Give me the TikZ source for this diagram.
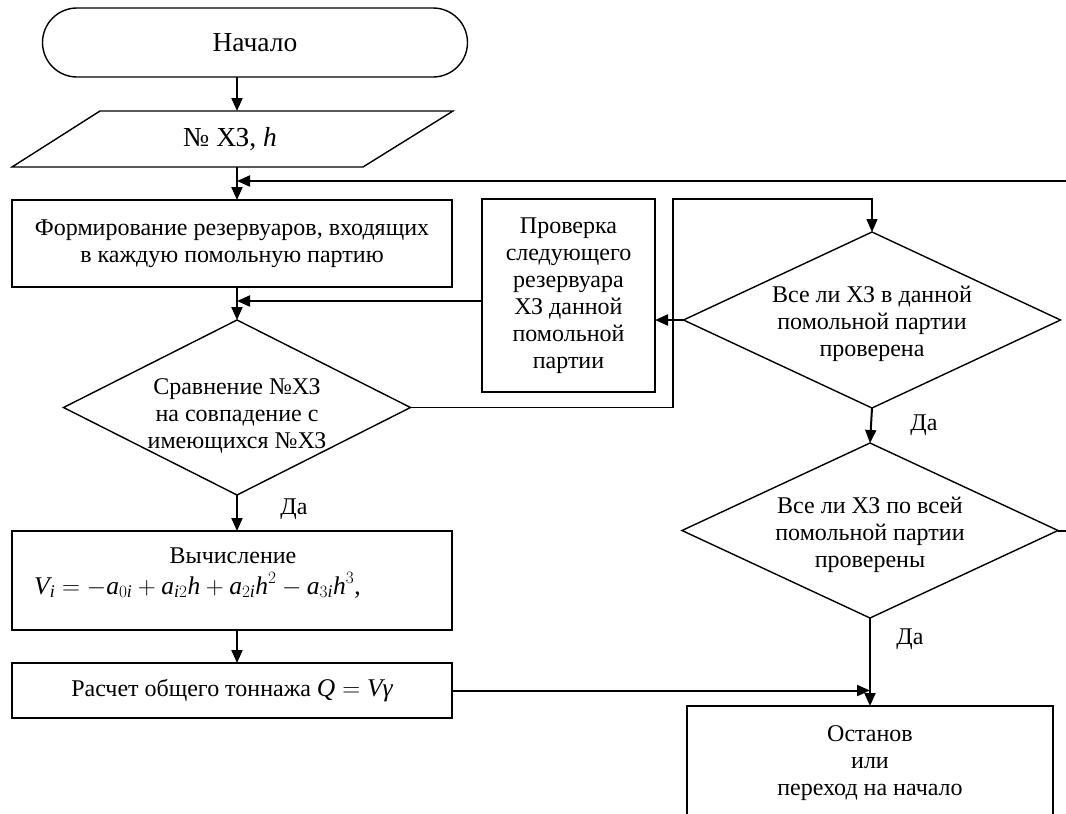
\documentclass[tikz,border=0pt]{standalone}
\usepackage{amsmath}
\usepackage{fontspec}
\setmainfont{Liberation Serif}
\usetikzlibrary{arrows.meta,shapes.geometric}
\newcommand{\mi}[1]{\textit{#1}}
\begin{document}
\begin{tikzpicture}[x=1pt,y=-1pt,
  base/.style={line width=1.4pt, inner sep=0pt, outer sep=0pt},
  box/.style={draw, rectangle, base, align=center, font=\fontsize{24}{27}\selectfont},
  dia/.style={draw, diamond, base},
  txt/.style={align=center, inner sep=0pt, font=\fontsize{24}{27}\selectfont},
  arr/.style={line width=2pt, -{Triangle[length=13pt,width=11pt]}}]
\clip (0,0) rectangle (1066,814);

% terminal
\node[draw, base, rectangle, rounded corners=34.5pt, minimum width=425pt, minimum height=69pt,
      font=\fontsize{27.5}{30}\selectfont] (start) at (255,42.5) {Начало};

% input (parallelogram)
\draw[base] (100,111) -- (453,111) -- (363,167) -- (12,167) -- cycle;
\node[base, minimum width=353pt, minimum height=56pt, font=\fontsize{27.5}{30}\selectfont]
      (inp) at (230,139) {№ ХЗ, \mi{h}};

% process boxes
\node[box, minimum width=440pt, minimum height=87pt] (box1) at (232,243.5)
      {Формирование резервуаров, входящих\\в каждую помольную партию};
\node[box, minimum width=173pt, minimum height=193pt] (chk) at (568.5,295.5)
      {Проверка\\следующего\\резервуара\\ХЗ данной\\помольной\\партии};
\node[box, minimum width=440pt, minimum height=99pt] (calc) at (232,580.5) {};
\node[txt] (calct) at (233,556) {Вычисление};
\node[anchor=west, inner sep=0pt, font=\fontsize{25.5}{27}\selectfont] (formula) at (34,585)
      {$\mi{V}_{\mi{i}} = -\mi{a}_{0\mi{i}} + \mi{a}_{\mi{i}2}\mi{h} + \mi{a}_{2\mi{i}}\mi{h}^{2} - \mi{a}_{3\mi{i}}\mi{h}^{3}$,};
\node[box, minimum width=440pt, minimum height=55pt] (sum) at (232,690.5)
      {Расчет общего тоннажа {\fontsize{25.5}{27}\selectfont $\mi{Q} = \mi{V}\mi{γ}$}};
\node[box, minimum width=366pt, minimum height=130pt] (stop) at (870,771) {};
\node[txt] (stopt) at (870,763) {Останов\\или\\переход на начало};

% decisions
\node[dia, minimum width=347pt, minimum height=175pt] (d1) at (237,407.5) {};
\node[txt] (d1t) at (237,416) {Сравнение №ХЗ\\на совпадение с\\имеющихся №ХЗ};
\node[dia, minimum width=377pt, minimum height=176pt] (d2) at (872,320) {};
\node[txt] (d2t) at (872,324) {Все ли ХЗ в данной\\помольной партии\\проверена};
\node[dia, minimum width=376pt, minimum height=175pt] (d3) at (870,530.5) {};
\node[txt] (d3t) at (870,535) {Все ли ХЗ по всей\\помольной партии\\проверены};

% labels
\node[txt] (yes1) at (294,509) {Да};
\node[txt] (yes2) at (924,425) {Да};
\node[txt] (yes3) at (910,639) {Да};

% helper points for routed connectors
\coordinate (j1) at (237,301);
\coordinate (lp) at (673,199);
\coordinate (rtop) at (1090,181);
\coordinate (rbot) at (1090,530.5);

% connectors
\draw[arr] (start.south -| d1.north) -- (inp.north -| d1.north);
\draw[arr] (inp.south -| d1.north) -- (box1.north -| d1.north);
\draw[arr] (d3.east) -- (rbot) -- (rtop) -- (rtop -| d1.north);
\draw[arr] (box1.south -| d1.north) -- (d1.north);
\draw[arr] (chk.west |- j1) -- (j1);
\draw[arr, line width=1.5pt] (d1.east) -- (d1.east -| lp) -- (lp) -- (lp -| d2.north) -- (d2.north);
\draw[arr] (d2.west) -- (chk.east |- d2.west);
\draw[arr] (d2.south) -- (d3.north);
\draw[arr] (d1.south) -- (calc.north -| d1.south);
\draw[arr] (calc.south -| d1.north) -- (sum.north -| d1.north);
\draw[arr] (d3.south) -- (stop.north);
\draw[arr] (sum.east) -- (sum.east -| d3.south);
\end{tikzpicture}
\end{document}
